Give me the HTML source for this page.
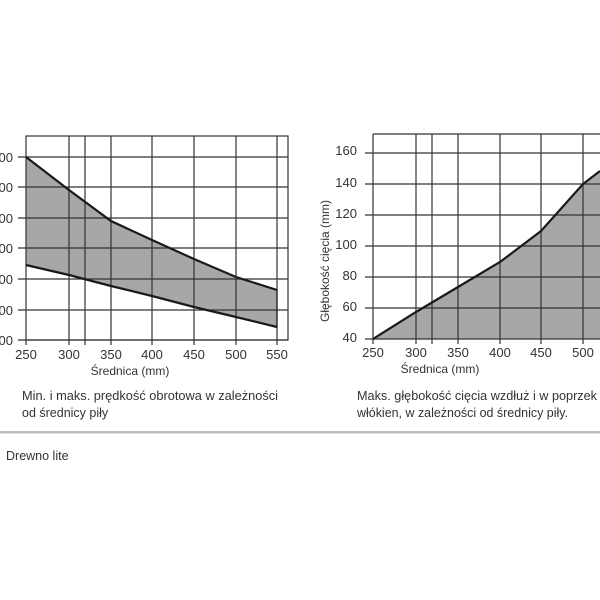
<!DOCTYPE html>
<html><head><meta charset="utf-8"><style>
html,body{margin:0;padding:0;background:#fff;}
svg{display:block;font-family:"Liberation Sans",Arial,sans-serif;}
</style></head><body>
<svg width="600" height="600" viewBox="0 0 600 600" xmlns="http://www.w3.org/2000/svg">
<rect width="600" height="600" fill="#fff"/>
<!-- LEFT CHART -->
<polygon points="26,157 69,190 111,221 152,240 194,259 236,277 277,290 277,327 236,317 194,307 152,296 111,286 69,275 26,265" fill="#a7a7aa"/>
<g stroke="#333" stroke-width="1.2" fill="none">
<rect x="26" y="136" width="262" height="204"/>
<line x1="69" y1="136" x2="69" y2="345"/>
<line x1="85" y1="136" x2="85" y2="345"/>
<line x1="111" y1="136" x2="111" y2="345"/>
<line x1="152" y1="136" x2="152" y2="345"/>
<line x1="194" y1="136" x2="194" y2="345"/>
<line x1="236" y1="136" x2="236" y2="345"/>
<line x1="277" y1="136" x2="277" y2="345"/>
<line x1="26" y1="340" x2="26" y2="345"/>
<line x1="18" y1="157" x2="288" y2="157"/>
<line x1="18" y1="187" x2="288" y2="187"/>
<line x1="18" y1="218" x2="288" y2="218"/>
<line x1="18" y1="248" x2="288" y2="248"/>
<line x1="18" y1="279" x2="288" y2="279"/>
<line x1="18" y1="310" x2="288" y2="310"/>
<line x1="18" y1="340" x2="288" y2="340"/>
</g>
<g stroke="#1a1a1a" stroke-width="2.2" fill="none">
<polyline points="26,157 69,190 111,221 152,240 194,259 236,277 277,290"/>
<polyline points="26,265 69,275 111,286 152,296 194,307 236,317 277,327"/>
<line x1="277" y1="290" x2="277" y2="327" stroke-width="1.2"/>
</g>
<g font-size="13" fill="#333" text-anchor="end">
<text x="13" y="162">00</text><text x="13" y="192">00</text><text x="13" y="223">00</text>
<text x="13" y="253">00</text><text x="13" y="284">00</text><text x="13" y="315">00</text><text x="13" y="345">00</text>
</g>
<g font-size="13" fill="#333" text-anchor="middle">
<text x="26" y="359">250</text><text x="69" y="359">300</text><text x="111" y="359">350</text>
<text x="152" y="359">400</text><text x="194" y="359">450</text><text x="236" y="359">500</text><text x="277" y="359">550</text>
<text x="130" y="375" font-size="12">Średnica (mm)</text>
</g>
<!-- RIGHT CHART -->
<polygon points="373,339 416,312 458,287 500,262 541,231 583,184 600,171 600,339" fill="#a7a7aa"/>
<g stroke="#333" stroke-width="1.2" fill="none">
<line x1="373" y1="134" x2="600" y2="134"/>
<line x1="373" y1="134" x2="373" y2="344"/>
<line x1="416" y1="134" x2="416" y2="344"/>
<line x1="432" y1="134" x2="432" y2="344"/>
<line x1="458" y1="134" x2="458" y2="344"/>
<line x1="500" y1="134" x2="500" y2="344"/>
<line x1="541" y1="134" x2="541" y2="344"/>
<line x1="583" y1="134" x2="583" y2="344"/>
<line x1="365" y1="153" x2="600" y2="153"/>
<line x1="365" y1="184" x2="600" y2="184"/>
<line x1="365" y1="215" x2="600" y2="215"/>
<line x1="365" y1="246" x2="600" y2="246"/>
<line x1="365" y1="277" x2="600" y2="277"/>
<line x1="365" y1="308" x2="600" y2="308"/>
<line x1="365" y1="339" x2="600" y2="339"/>
</g>
<polyline points="373,339 416,312 458,287 500,262 541,231 583,184 600,171" stroke="#1a1a1a" stroke-width="2.2" fill="none"/>
<g font-size="13" fill="#333" text-anchor="end">
<text x="357" y="155">160</text><text x="357" y="187">140</text><text x="357" y="218">120</text>
<text x="357" y="249">100</text><text x="357" y="280">80</text><text x="357" y="311">60</text><text x="357" y="342">40</text>
</g>
<g font-size="13" fill="#333" text-anchor="middle">
<text x="373" y="357">250</text><text x="416" y="357">300</text><text x="458" y="357">350</text>
<text x="500" y="357">400</text><text x="541" y="357">450</text><text x="583" y="357">500</text>
<text x="440" y="373" font-size="12">Średnica (mm)</text>
</g>
<text transform="translate(329,261) rotate(-90)" font-size="12" fill="#333" text-anchor="middle" textLength="122" lengthAdjust="spacingAndGlyphs">Głębokość cięcia (mm)</text>
<!-- captions -->
<g font-size="12.5" fill="#333">
<text x="22" y="400" textLength="256" lengthAdjust="spacingAndGlyphs">Min. i maks. prędkość obrotowa w zależności</text>
<text x="22" y="417">od średnicy piły</text>
<text x="357" y="400" textLength="240" lengthAdjust="spacingAndGlyphs">Maks. głębokość cięcia wzdłuż i w poprzek</text>
<text x="357" y="417" textLength="211" lengthAdjust="spacingAndGlyphs">włókien, w zależności od średnicy piły.</text>
<text x="6" y="460">Drewno lite</text>
</g>
<rect x="0" y="431" width="600" height="2.5" fill="#bdbdbd"/>
</svg>
</body></html>
